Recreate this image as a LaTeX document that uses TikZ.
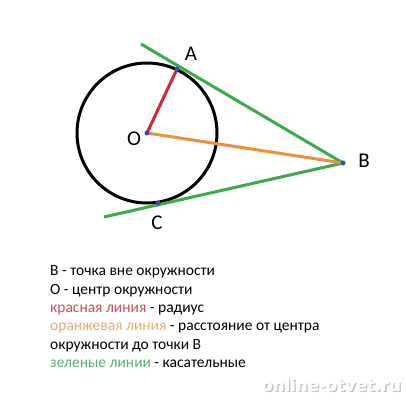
\documentclass[tikz,border=0pt]{standalone}
\usepackage{fontspec}
\setmainfont{Carlito}
\newfontfamily\wmfont{DejaVu Sans}
\definecolor{gline}{RGB}{60,170,75}
\definecolor{rline}{RGB}{205,40,60}
\definecolor{oline}{RGB}{235,145,60}
\definecolor{dotc}{RGB}{60,70,185}
\definecolor{rtext}{RGB}{200,80,95}
\definecolor{otext}{RGB}{225,175,120}
\definecolor{gtext}{RGB}{90,175,120}
\begin{document}
\begin{tikzpicture}[x=1pt,y=-1pt,
  ln/.style={line width=3pt},
  pt/.style={circle,fill=dotc,inner sep=0pt,minimum size=5pt},
  lbl/.style={font=\fontsize{21}{21}\selectfont,inner sep=0pt},
  leg/.style={anchor=west,inner sep=0pt,font=\fontsize{15.5}{15.5}\selectfont}]
\useasboundingbox[fill=white] (0,0) rectangle (406,400);
\coordinate (O) at (147,133);
\coordinate (A) at (177,69);
\coordinate (B) at (343,163);
\coordinate (C) at (158,203);
\coordinate (T1) at (141,44);
\coordinate (T2) at (104,217);
\draw[line width=3pt] (O) circle[radius=70];
\draw[ln,gline] (T1) -- (B);
\draw[ln,gline] (T2) -- (B);
\draw[ln,rline] (O) -- (A);
\draw[ln,oline] (O) -- (B);
\node[pt] (pO) at (O) {};
\node[pt] (pA) at (A) {};
\node[pt] (pB) at (B) {};
\node[pt] (pC) at (C) {};
\node[lbl] (lA) at (191,54) {A};
\node[lbl] (lO) at (134,139) {O};
\node[lbl] (lB) at (364,161) {B};
\node[lbl] (lC) at (157,223) {C};
\node[leg] (t1) at (50,272) {B - точка вне окружности};
\node[leg] (t2) at (50,291) {O - центр окружности};
\node[leg] (t3) at (50,309.5) {\textcolor{rtext}{красная линия} - радиус};
\node[leg] (t4) at (50,327.5) {\textcolor{otext}{оранжевая линия} - расстояние от центра};
\node[leg] (t5) at (50,345.5) {окружности до точки B};
\node[leg] (t6) at (50,363.5) {\textcolor{gtext}{зеленые линии} - касательные};
\node[anchor=west,inner sep=0pt,font=\wmfont\bfseries\fontsize{16.5}{16.5}\selectfont,text=black!25] at (262.8,386.2) {online-otvet.ru};
\node[anchor=west,inner sep=0pt,font=\wmfont\bfseries\fontsize{16.5}{16.5}\selectfont,text=white] (wm) at (261.5,385) {online-otvet.ru};
\end{tikzpicture}
\end{document}
